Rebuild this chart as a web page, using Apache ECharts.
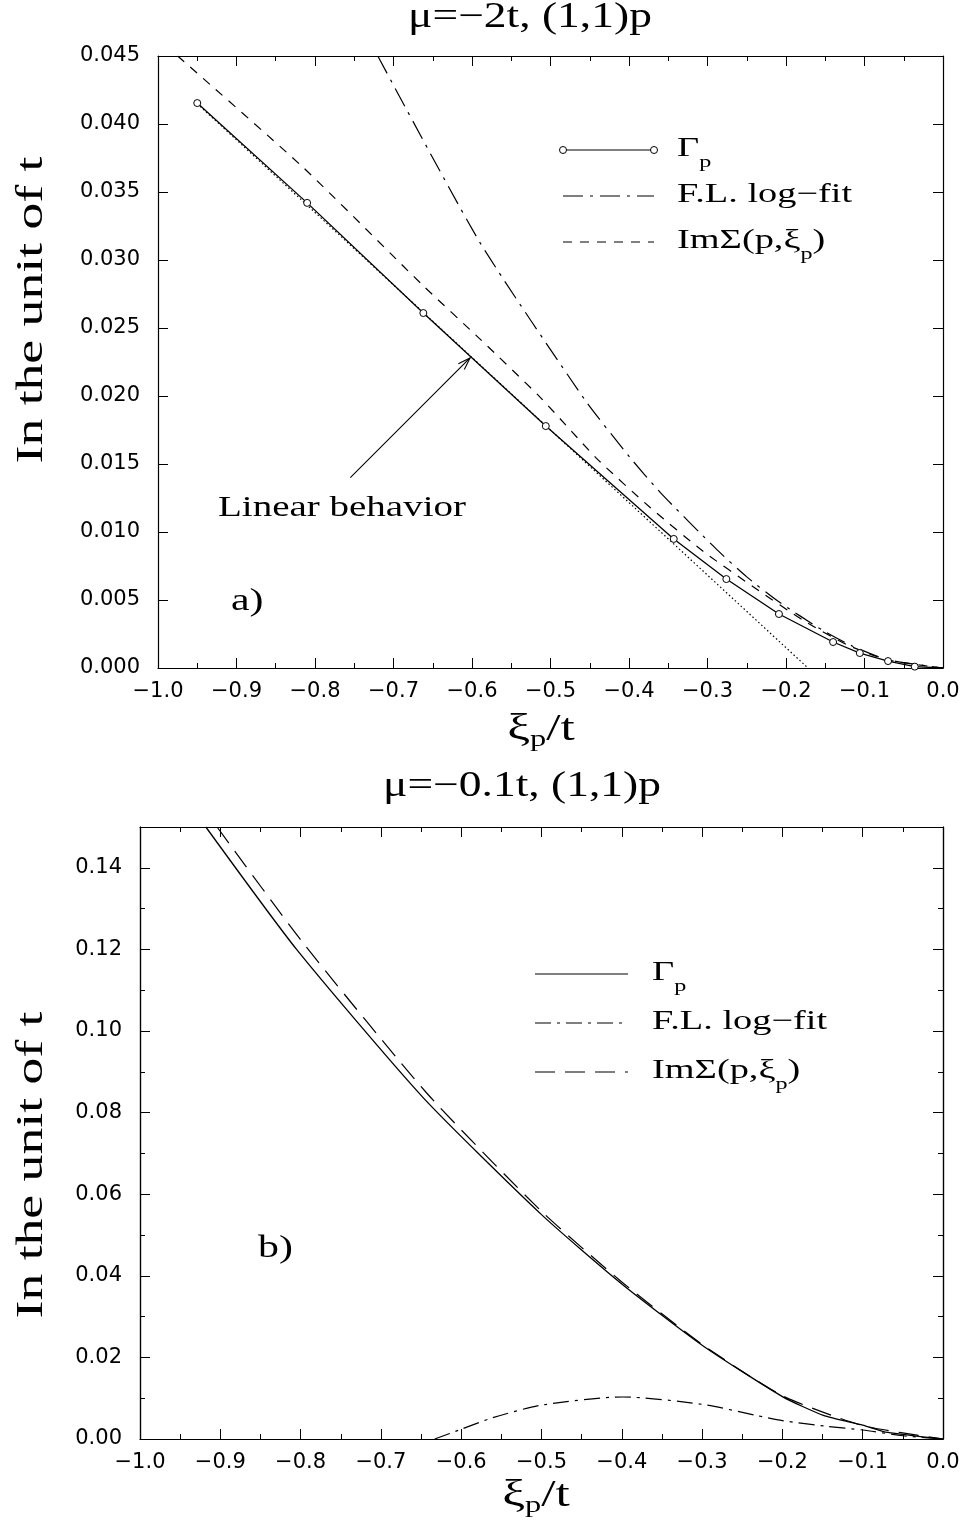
<!DOCTYPE html>
<html>
<head>
<meta charset="utf-8">
<script src="https://cdn.jsdelivr.net/npm/echarts@6/dist/echarts.min.js"></script>
<style>
  html, body { margin: 0; padding: 0; background: #ffffff; }
  #chart { width: 969px; height: 1523px; }
</style>
</head>
<body>
<div id="chart"></div>
<script>
// ---------- data: panel a)  mu = -2t ----------
// Gamma_p, sampled points (drawn with open circles)
const gammaA = [
  [-0.950, 0.04154], [-0.810, 0.0342], [-0.662, 0.0261], [-0.506, 0.01779],
  [-0.343, 0.00949], [-0.276, 0.00654], [-0.209, 0.00397], [-0.140, 0.00191],
  [-0.106, 0.0011], [-0.070, 0.00051], [-0.036, 0.0001]
];
const gammaAOrigin = [0, 0];
// Fermi-liquid log fit
const fitA = [
  [-0.720, 0.0450], [-0.590, 0.0313], [-0.456, 0.0197], [-0.399, 0.0155],
  [-0.360, 0.0129], [-0.288, 0.0087], [-0.250, 0.0067], [-0.210, 0.0049],
  [-0.154, 0.0028], [-0.115, 0.0016], [-0.070, 0.0006], [0, 0]
];
// Im Sigma(p, xi_p)
const imSigmaA = [
  [-0.975, 0.0450], [-0.815, 0.0368], [-0.662, 0.0281], [-0.590, 0.0242],
  [-0.513, 0.0199], [-0.441, 0.0154], [-0.373, 0.0118], [-0.306, 0.0086],
  [-0.240, 0.0059], [-0.178, 0.0035], [-0.122, 0.0017], [-0.071, 0.0006], [0, 0]
];
// straight line marking the linear regime
const linearA = [[-0.950, 0.0415], [-0.172, 0]];
// arrow of the "Linear behavior" note: tail, head
const arrowA = [[-0.755, 0.0140], [-0.6025, 0.0228]];

// ---------- data: panel b)  mu = -0.1t ----------
const gammaB = [
  [-0.918, 0.150], [-0.805, 0.120], [-0.648, 0.0838], [-0.500, 0.0550],
  [-0.400, 0.0380], [-0.300, 0.0230], [-0.200, 0.0104], [-0.149, 0.0058],
  [-0.100, 0.0034], [-0.069, 0.0016], [0, 0]
];
const fitB = [
  [-0.633, 0], [-0.600, 0.0024], [-0.561, 0.0052], [-0.500, 0.0083],
  [-0.399, 0.0103], [-0.300, 0.0085], [-0.233, 0.0058], [-0.200, 0.0045],
  [-0.144, 0.0031], [-0.100, 0.0022], [-0.050, 0.0008], [0, 0]
];
const imSigmaB = [
  [-0.904, 0.150], [-0.797, 0.1216], [-0.643, 0.0848], [-0.500, 0.0558],
  [-0.400, 0.0385], [-0.300, 0.0232], [-0.200, 0.0106], [-0.100, 0.0033], [0, 0]
];

// ---------- text ----------
const titleA = 'μ=−2t, (1,1)p';
const titleB = 'μ=−0.1t, (1,1)p';
const yName = 'In the unit of t';
const legendNames = [
  [['Γ', 0], ['p', 1]],
  [['F.L. log−fit', 0]],
  [['ImΣ(p,ξ', 0], ['p', 1], [')', 0]]
];
const xNameParts = [['ξ', 0], ['p', 1], ['/t', 0]];

// ---------- layout / styles ----------
const SERIF = '"Liberation Serif", "Times New Roman", serif';
const SANS = '"DejaVu Sans", "Liberation Sans", sans-serif';
const INK = '#000000';
const dashFit = [20, 7, 3, 7];
const dashImA = [9, 8];
const dashImB = [20, 10];
const dashFitB = [16, 6, 3, 6];

const minus = v => (v < -1e-9 ? '−' : '') + Math.abs(v).toFixed(1);

function xAxisPair(gridIndex) {
  const base = {
    type: 'value', gridIndex, min: -1, max: 0, interval: 0.1,
    axisLine: { show: true, onZero: false, lineStyle: { color: INK, width: 1.2 } },
    axisTick: { show: true, inside: true, length: 10, lineStyle: { color: INK, width: 1 } },
    minorTick: { show: true, splitNumber: 2, length: 5, lineStyle: { color: INK, width: 1 } },
    splitLine: { show: false }, minorSplitLine: { show: false }
  };
  return [
    Object.assign({}, base, {
      position: 'bottom',
      axisLabel: { show: true, color: INK, fontSize: 21, fontFamily: SANS, margin: 13, formatter: minus }
    }),
    Object.assign({}, base, { position: 'top', axisLabel: { show: false } })
  ];
}

function yAxisDef(gridIndex, pos, max, interval, tickLen, labels, fmt) {
  return {
    type: 'value', gridIndex, position: pos, min: 0, max, interval,
    axisLine: { show: true, onZero: false, lineStyle: { color: INK, width: 1.2 } },
    axisTick: { show: true, inside: true, length: tickLen, lineStyle: { color: INK, width: 1 } },
    minorTick: { show: false },
    splitLine: { show: false }, minorSplitLine: { show: false },
    axisLabel: labels
      ? { show: true, color: INK, fontSize: 21, fontFamily: SANS, margin: 18, formatter: fmt, showMaxLabel: true }
      : { show: false }
  };
}

const fmtA = v => v.toFixed(3);
const fmtB = v => {
  const k = Math.round(v * 100);
  return (k % 2 === 0 && k <= 14) ? (k / 100).toFixed(2) : '';
};

const lineBase = { type: 'line', animation: false, silent: true, symbol: 'none', clip: true };

const option = {
  backgroundColor: '#ffffff',
  animation: false,
  grid: [
    { left: 158, right: 26, top: 56, height: 612, containLabel: false, outerBoundsMode: 'none' },
    { left: 140, right: 26, top: 827, height: 612, containLabel: false, outerBoundsMode: 'none' }
  ],
  xAxis: [].concat(xAxisPair(0), xAxisPair(1)),
  yAxis: [
    yAxisDef(0, 'left', 0.045, 0.005, 10, true, fmtA),
    yAxisDef(0, 'right', 0.045, 0.005, 10, false),
    yAxisDef(1, 'left', 0.15, 0.01, 5, true, fmtB),
    yAxisDef(1, 'left', 0.15, 0.02, 10, false),
    yAxisDef(1, 'right', 0.15, 0.01, 5, false),
    yAxisDef(1, 'right', 0.15, 0.02, 10, false)
  ],
  series: [
    Object.assign({}, lineBase, {
      name: 'Γp a', xAxisIndex: 0, yAxisIndex: 0,
      data: gammaA.concat([{ value: gammaAOrigin, symbol: 'none' }]),
      symbol: 'circle', symbolSize: 7, showSymbol: true,
      itemStyle: { color: '#ffffff', borderColor: INK, borderWidth: 1 },
      lineStyle: { color: INK, width: 1.3 }, z: 5
    }),
    Object.assign({}, lineBase, {
      name: 'fit a', xAxisIndex: 0, yAxisIndex: 0, data: fitA, smooth: 0.2,
      lineStyle: { color: INK, width: 1.2, type: dashFit }
    }),
    Object.assign({}, lineBase, {
      name: 'ImSigma a', xAxisIndex: 0, yAxisIndex: 0, data: imSigmaA, smooth: 0.2,
      lineStyle: { color: INK, width: 1.2, type: dashImA }
    }),
    Object.assign({}, lineBase, {
      name: 'linear a', xAxisIndex: 0, yAxisIndex: 0, data: linearA,
      lineStyle: { color: INK, width: 1.2, type: [1.5, 2.5] }
    }),
    Object.assign({}, lineBase, {
      name: 'Γp b', xAxisIndex: 2, yAxisIndex: 2, data: gammaB, smooth: 0.2,
      lineStyle: { color: INK, width: 1.3 }
    }),
    Object.assign({}, lineBase, {
      name: 'fit b', xAxisIndex: 2, yAxisIndex: 2, data: fitB, smooth: 0.25,
      lineStyle: { color: INK, width: 1.2, type: dashFitB }
    }),
    Object.assign({}, lineBase, {
      name: 'ImSigma b', xAxisIndex: 2, yAxisIndex: 2, data: imSigmaB, smooth: 0.2,
      lineStyle: { color: INK, width: 1.2, type: dashImB }
    })
  ]
};

const chart = echarts.init(document.getElementById('chart'), null, { renderer: 'canvas', width: 969, height: 1523 });
chart.setOption(option);

// ---------- text helpers (serif text, slightly widened, with subscripts) ----------
const mctx = document.createElement('canvas').getContext('2d');
function textWidth(t, fs) { mctx.font = fs + 'px ' + SERIF; return mctx.measureText(t).width; }

function richText(parts, o) {
  let w = 0;
  const items = [];
  for (const [t, sub] of parts) {
    const f = sub ? o.subFs : o.fs;
    items.push({ t, f, x: w, dy: sub ? o.drop : 0 });
    w += textWidth(t, f);
  }
  const off = o.align === 'center' ? -w / 2 : 0;
  return {
    type: 'group', x: o.x, y: o.y, rotation: o.rotation || 0, scaleX: o.sx || 1, silent: true,
    children: items.map(it => ({
      type: 'text', x: off + it.x, y: it.dy - 0.3375 * it.f,
      style: {
        text: it.t, font: it.f + 'px ' + SERIF, fill: INK,
        align: 'left', textAlign: 'left', verticalAlign: 'middle', textVerticalAlign: 'middle'
      }
    }))
  };
}

function legendBlock(x1, x2, tx, ys, styles) {
  const els = [];
  ys.forEach((y, i) => {
    const st = styles[i];
    els.push({
      type: 'line', silent: true,
      shape: { x1, y1: y, x2, y2: y },
      style: { stroke: INK, lineWidth: 1.2, lineDash: st.dash || null }
    });
    if (st.circles) {
      [x1, x2].forEach(cx => els.push({
        type: 'circle', silent: true, shape: { cx, cy: y, r: 3.5 },
        style: { fill: '#ffffff', stroke: INK, lineWidth: 1 }, z: 10
      }));
    }
    els.push(richText(legendNames[i], { x: tx, y: y + 8, fs: 27, subFs: 17, drop: 10, sx: 1.42 }));
  });
  return els;
}

// arrow for the note in panel a)
const pTail = chart.convertToPixel({ gridIndex: 0 }, arrowA[0]);
const pHead = chart.convertToPixel({ gridIndex: 0 }, arrowA[1]);
const ang = Math.atan2(pHead[1] - pTail[1], pHead[0] - pTail[0]);
const headLen = 13, headSpread = 0.33;
const wing = s => [pHead[0] - headLen * Math.cos(ang + s), pHead[1] - headLen * Math.sin(ang + s)];

const graphics = [
  richText([[titleA, 0]], { x: 530, y: 30, fs: 35, sx: 1.3, align: 'center' }),
  richText([[titleB, 0]], { x: 522, y: 799, fs: 35, sx: 1.3, align: 'center' }),
  richText(xNameParts, { x: 541, y: 743, fs: 38, subFs: 24, drop: 5, sx: 1.35, align: 'center' }),
  richText(xNameParts, { x: 536, y: 1509, fs: 38, subFs: 24, drop: 5, sx: 1.35, align: 'center' }),
  richText([[yName, 0]], { x: 45, y: 310, fs: 37, sx: 1.45, align: 'center', rotation: Math.PI / 2 }),
  richText([[yName, 0]], { x: 45, y: 1165, fs: 37, sx: 1.45, align: 'center', rotation: Math.PI / 2 }),
  richText([['a)', 0]], { x: 231, y: 612, fs: 31, sx: 1.35 }),
  richText([['b)', 0]], { x: 258, y: 1259, fs: 31, sx: 1.35 }),
  richText([['Linear behavior', 0]], { x: 218, y: 518, fs: 30, sx: 1.3 }),
  {
    type: 'polyline', silent: true,
    shape: { points: [pTail, pHead] },
    style: { stroke: INK, lineWidth: 1.1, fill: null }
  },
  {
    type: 'polyline', silent: true,
    shape: { points: [wing(headSpread), pHead, wing(-headSpread)] },
    style: { stroke: INK, lineWidth: 1.1, fill: null }
  }
].concat(
  legendBlock(563, 654, 677, [150, 196, 242], [{ circles: true }, { dash: dashFit }, { dash: dashImA }]),
  legendBlock(535, 628, 652, [974, 1023, 1072], [{}, { dash: dashFitB }, { dash: dashImB }])
);

chart.setOption({ graphic: graphics });
</script>
</body>
</html>
